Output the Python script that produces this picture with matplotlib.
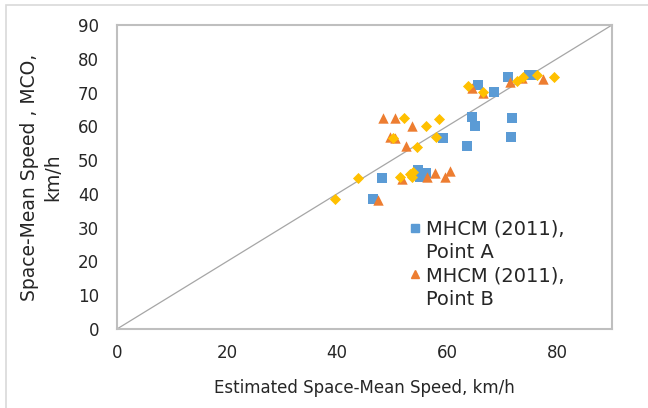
import matplotlib
matplotlib.use("Agg")
import matplotlib.pyplot as plt
from matplotlib.patches import Rectangle
from matplotlib.lines import Line2D

# Data (km/h)
a_x = [71.1, 74.9, 75.6, 65.7, 68.5, 64.5, 65.1, 71.8, 71.6, 59.2, 63.6, 48.2, 54.8, 55.1, 56.2, 46.5]
a_y = [74.7, 75.1, 75.1, 72.1, 70.3, 62.7, 60.2, 62.5, 56.9, 56.6, 54.2, 44.6, 47.1, 45.1, 46.3, 38.4]

b_x = [48.3, 50.5, 53.7, 49.6, 50.5, 52.5, 51.9, 56.4, 57.8, 59.6, 60.5, 47.5, 71.5, 73.6, 77.4, 64.5, 66.5]
b_y = [62.5, 62.5, 60.1, 56.9, 56.4, 54.2, 44.3, 44.9, 46.1, 45.1, 46.8, 38.2, 73.2, 74.2, 74.0, 71.4, 70.0]

c_x = [79.4, 76.4, 73.9, 72.7, 63.9, 66.6, 52.2, 58.5, 56.2, 50.2, 58.0, 54.5, 43.9, 51.5, 53.3, 53.9, 53.6, 39.6]
c_y = [74.6, 75.1, 74.5, 73.5, 71.8, 70.2, 62.5, 62.3, 60.1, 56.4, 56.9, 54.0, 44.6, 44.9, 45.9, 46.6, 45.1, 38.4]

series_labels = [("MHCM (2011),", "Point A"), ("MHCM (2011),", "Point B")]
x_ticks = [0, 20, 40, 60, 80]
y_ticks = [0, 10, 20, 30, 40, 50, 60, 70, 80, 90]

BLUE = "#5B9BD5"
ORANGE = "#ED7D31"
YELLOW = "#FFC000"
TXT = "#262626"

plt.rcParams['font.family'] = ['DejaVu Sans']

fig = plt.figure(figsize=(6.48, 4.08), dpi=100)
ax = fig.add_axes([117/648, 1 - 329/408, (612-117)/648, (329-25)/408])

# chart border
fig.patches.append(Rectangle((5.5/648, -0.1), 1.2, 1.1 - 5.5/408, transform=fig.transFigure,
                             fill=False, edgecolor="#D9D9D9", linewidth=1.2, zorder=0))

ax.plot([0, 90], [0, 90], color="#A6A6A6", linewidth=0.9, zorder=1)

ax.scatter(a_x, a_y, marker="s", s=46, color=BLUE, linewidths=0, zorder=3)
ax.scatter(b_x, b_y, marker="^", s=56, color=ORANGE, linewidths=0, zorder=4)
ax.scatter(c_x, c_y, marker="D", s=32, color=YELLOW, linewidths=0, zorder=5)

ax.set_xlim(0, 90)
ax.set_ylim(0, 90)
ax.set_xticks(x_ticks)
ax.set_yticks(y_ticks)
ax.tick_params(length=0, labelsize=12, colors=TXT)
ax.tick_params(axis='y', pad=13)
ax.tick_params(axis='x', pad=11)
for s in ax.spines.values():
    s.set_color("#BFBFBF")
    s.set_linewidth(1.5)

ax.set_xlabel("Estimated Space-Mean Speed, km/h", fontsize=12, color=TXT, labelpad=12)
ax.set_ylabel("Space-Mean Speed , MCO,\nkm/h", fontsize=13.5, color=TXT,
              linespacing=1.25)
ax.yaxis.set_label_coords(-0.111, 0.5)

blank = Line2D([], [], linestyle="none", marker="none")
handles = [Line2D([], [], marker="s", linestyle="none", color=BLUE, markersize=5.5), blank,
           Line2D([], [], marker="^", linestyle="none", color=ORANGE, markersize=6), blank]
labels = [series_labels[0][0], series_labels[0][1], series_labels[1][0], series_labels[1][1]]
leg = ax.legend(handles, labels, loc="upper left", bbox_to_anchor=(399/648, 1 - 210/408),
                bbox_transform=fig.transFigure, frameon=False, fontsize=14,
                handlelength=0.6, handletextpad=0.3, labelspacing=0.22, borderpad=0,
                labelcolor=TXT)

fig.savefig("out.png", dpi=100)
